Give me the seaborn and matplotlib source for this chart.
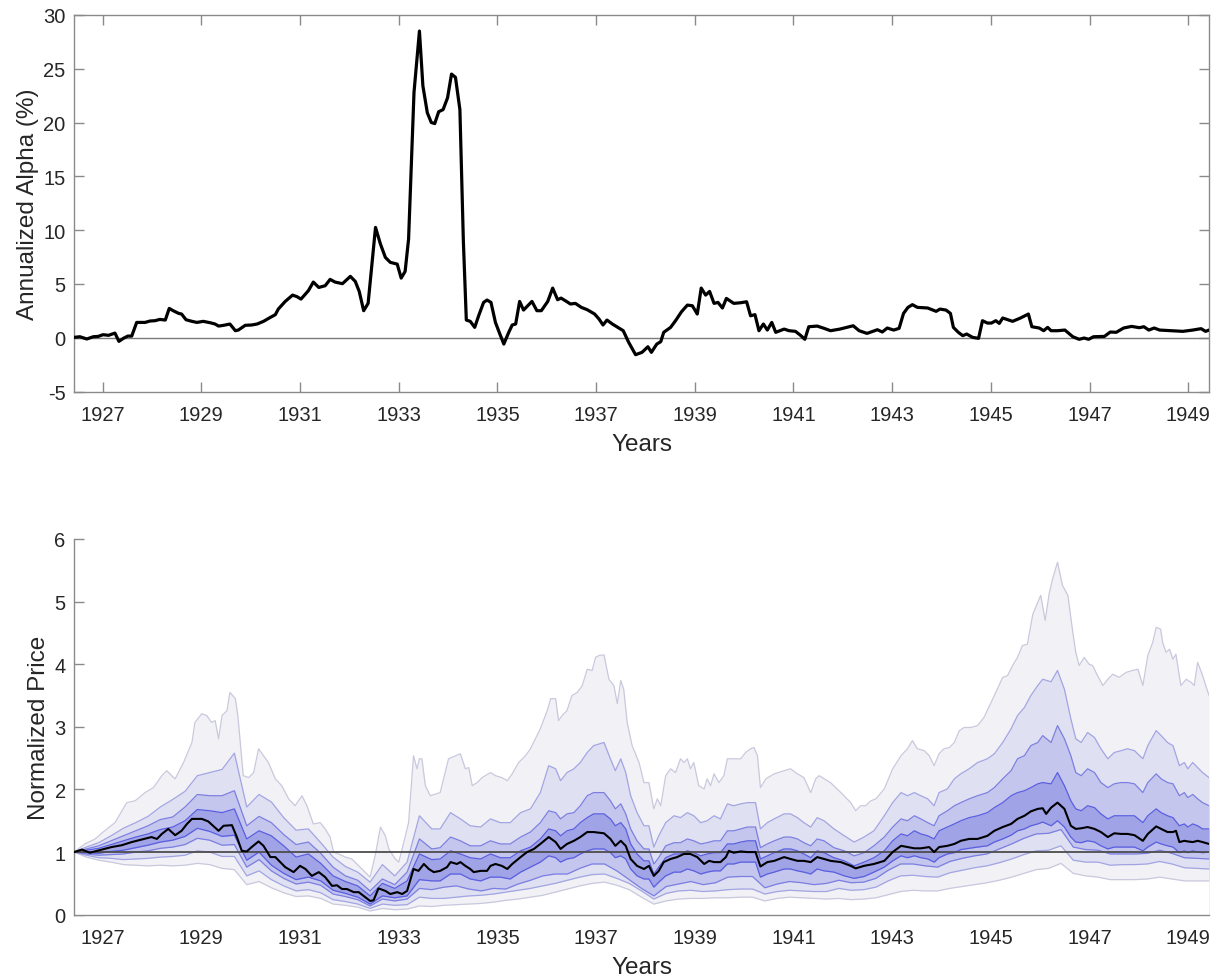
import numpy as np
import pandas as pd
import matplotlib
matplotlib.use("Agg")
import matplotlib.pyplot as plt
import seaborn as sns

# ---------------- data: top panel (annualized alpha, %) ----------------
alpha_years = [1926.42,1926.54,1926.68,1926.81,1926.91,1927.01,1927.12,1927.25,1927.33,1927.42,
 1927.51,1927.59,1927.69,1927.86,1927.96,1928.06,1928.16,1928.27,1928.35,1928.43,
 1928.54,1928.60,1928.69,1928.81,1928.91,1929.04,1929.18,1929.28,1929.35,1929.45,
 1929.58,1929.69,1929.75,1929.89,1930.02,1930.13,1930.26,1930.40,1930.50,1930.56,
 1930.70,1930.85,1930.94,1931.02,1931.17,1931.27,1931.38,1931.51,1931.61,1931.71,
 1931.86,1932.02,1932.12,1932.20,1932.29,1932.38,1932.53,1932.63,1932.73,1932.83,
 1932.97,1933.05,1933.13,1933.20,1933.31,1933.42,1933.49,1933.58,1933.66,1933.73,
 1933.81,1933.90,1933.99,1934.07,1934.15,1934.24,1934.31,1934.37,1934.45,1934.54,
 1934.62,1934.72,1934.79,1934.87,1934.96,1935.05,1935.13,1935.23,1935.30,1935.37,
 1935.45,1935.53,1935.70,1935.80,1935.89,1936.02,1936.12,1936.22,1936.29,1936.40,
 1936.48,1936.58,1936.70,1936.82,1936.97,1937.06,1937.14,1937.22,1937.33,1937.46,
 1937.55,1937.66,1937.80,1937.93,1938.05,1938.12,1938.23,1938.31,1938.37,1938.51,
 1938.61,1938.73,1938.85,1938.95,1939.05,1939.13,1939.22,1939.30,1939.39,1939.47,
 1939.56,1939.64,1939.79,1939.93,1940.05,1940.13,1940.22,1940.30,1940.39,1940.47,
 1940.56,1940.64,1940.81,1940.91,1941.04,1941.15,1941.23,1941.31,1941.48,1941.62,
 1941.75,1941.94,1942.03,1942.21,1942.33,1942.49,1942.70,1942.80,1942.90,1943.03,
 1943.14,1943.23,1943.32,1943.41,1943.51,1943.72,1943.89,1943.97,1944.09,1944.18,
 1944.24,1944.34,1944.43,1944.51,1944.63,1944.75,1944.83,1944.93,1945.01,1945.10,
 1945.17,1945.24,1945.44,1945.60,1945.76,1945.83,1945.98,1946.07,1946.15,1946.22,
 1946.35,1946.50,1946.66,1946.79,1946.89,1946.98,1947.08,1947.30,1947.42,1947.54,
 1947.69,1947.85,1948.01,1948.10,1948.20,1948.31,1948.42,1948.65,1948.89,1949.09,
 1949.26,1949.35,1949.42]
alpha_values = [0.03,0.09,-0.12,0.09,0.12,0.28,0.22,0.43,-0.34,-0.06,
 0.15,0.15,1.42,1.42,1.55,1.58,1.70,1.64,2.72,2.51,
 2.26,2.20,1.67,1.52,1.42,1.52,1.39,1.27,1.08,1.15,
 1.27,0.65,0.71,1.15,1.18,1.27,1.52,1.89,2.14,2.66,
 3.37,3.96,3.81,3.59,4.37,5.17,4.67,4.83,5.42,5.17,
 5.02,5.70,5.23,4.30,2.51,3.19,10.25,8.70,7.46,7.00,
 6.84,5.54,6.16,9.16,22.8,28.5,23.4,20.9,20.0,19.9,
 21.0,21.2,22.3,24.5,24.2,21.2,9.0,1.64,1.52,0.96,
 2.04,3.28,3.50,3.28,1.42,0.34,-0.59,0.50,1.18,1.27,
 3.37,2.57,3.37,2.51,2.51,3.37,4.61,3.53,3.68,3.37,
 3.13,3.19,2.82,2.60,2.20,1.73,1.18,1.64,1.27,0.90,
 0.65,-0.43,-1.58,-1.36,-0.84,-1.36,-0.59,-0.37,0.50,0.96,
 1.58,2.41,3.03,2.97,2.20,4.61,3.96,4.30,3.19,3.28,
 2.76,3.65,3.19,3.25,3.34,2.04,2.14,0.65,1.27,0.71,
 1.42,0.50,0.80,0.65,0.59,0.19,-0.15,1.02,1.08,0.87,
 0.65,0.80,0.90,1.11,0.65,0.40,0.74,0.53,0.90,0.71,
 0.87,2.26,2.82,3.07,2.82,2.76,2.45,2.66,2.57,2.26,
 0.96,0.50,0.19,0.34,0.03,-0.06,1.58,1.36,1.36,1.58,
 1.33,1.83,1.52,1.83,2.20,1.02,0.90,0.65,0.96,0.65,
 0.65,0.71,0.09,-0.15,-0.03,-0.15,0.09,0.12,0.53,0.50,
 0.90,1.05,0.93,1.02,0.71,0.90,0.71,0.65,0.59,0.71,
 0.84,0.59,0.71]

# ---------------- data: bottom panel (normalized price fan) ----------------
fan_start, fan_end, fan_count = 1926.42, 1949.42, 93   # quarterly grid for the outer-lower edges

median_years = [1926.42,1926.58,1926.74,1926.98,1927.18,1927.39,1927.59,1927.79,1927.99,1928.10,
 1928.20,1928.33,1928.47,1928.60,1928.71,1928.81,1929.01,1929.14,1929.35,1929.45,
 1929.62,1929.72,1929.82,1929.92,1930.02,1930.16,1930.26,1930.40,1930.50,1930.60,
 1930.70,1930.87,1931.00,1931.11,1931.24,1931.38,1931.51,1931.65,1931.75,1931.85,
 1931.95,1932.09,1932.19,1932.32,1932.42,1932.49,1932.59,1932.73,1932.83,1932.97,
 1933.07,1933.17,1933.24,1933.30,1933.40,1933.51,1933.61,1933.71,1933.84,1933.98,
 1934.05,1934.18,1934.25,1934.35,1934.45,1934.52,1934.66,1934.79,1934.86,1934.96,
 1935.09,1935.20,1935.30,1935.47,1935.60,1935.74,1935.87,1936.04,1936.18,1936.28,
 1936.41,1936.55,1936.68,1936.82,1936.95,1937.16,1937.29,1937.39,1937.50,1937.60,
 1937.70,1937.83,1937.97,1938.07,1938.17,1938.27,1938.37,1938.51,1938.64,1938.78,
 1938.91,1939.05,1939.19,1939.29,1939.39,1939.52,1939.63,1939.69,1939.79,1939.93,
 1940.07,1940.23,1940.33,1940.47,1940.61,1940.81,1940.94,1941.08,1941.21,1941.35,
 1941.48,1941.62,1941.75,1941.96,1942.16,1942.26,1942.43,1942.63,1942.84,1943.01,
 1943.18,1943.31,1943.45,1943.58,1943.75,1943.85,1943.95,1944.12,1944.26,1944.39,
 1944.56,1944.73,1944.93,1945.07,1945.24,1945.41,1945.54,1945.68,1945.81,1945.95,
 1946.05,1946.12,1946.22,1946.35,1946.49,1946.62,1946.72,1946.83,1946.96,1947.10,
 1947.23,1947.37,1947.50,1947.64,1947.77,1947.91,1948.08,1948.18,1948.35,1948.45,
 1948.58,1948.69,1948.75,1948.82,1948.92,1948.99,1949.09,1949.19,1949.29,1949.42]
median_price = [1.00,1.04,0.99,1.04,1.08,1.11,1.16,1.20,1.24,1.21,
 1.29,1.37,1.27,1.34,1.45,1.53,1.53,1.49,1.34,1.42,
 1.43,1.24,1.02,1.01,1.08,1.17,1.10,0.92,0.92,0.84,
 0.76,0.68,0.78,0.73,0.62,0.68,0.60,0.46,0.47,0.41,
 0.41,0.36,0.36,0.28,0.22,0.23,0.42,0.38,0.33,0.36,
 0.33,0.38,0.57,0.73,0.70,0.81,0.73,0.68,0.70,0.76,
 0.84,0.81,0.84,0.78,0.73,0.68,0.70,0.70,0.78,0.81,
 0.78,0.73,0.81,0.92,1.00,1.05,1.13,1.24,1.16,1.05,
 1.13,1.18,1.24,1.32,1.32,1.30,1.21,1.10,1.18,1.10,
 0.89,0.78,0.73,0.78,0.62,0.70,0.84,0.89,0.92,0.97,
 0.97,0.92,0.81,0.86,0.84,0.84,0.92,1.02,0.99,1.01,
 1.00,1.00,0.77,0.84,0.86,0.92,0.89,0.86,0.86,0.84,
 0.92,0.89,0.86,0.84,0.78,0.74,0.78,0.81,0.86,1.00,
 1.10,1.08,1.06,1.06,1.08,1.00,1.08,1.10,1.13,1.18,
 1.21,1.21,1.26,1.34,1.40,1.45,1.53,1.58,1.65,1.69,
 1.70,1.61,1.71,1.79,1.69,1.42,1.37,1.38,1.40,1.37,
 1.32,1.24,1.30,1.29,1.29,1.27,1.18,1.29,1.41,1.37,
 1.32,1.32,1.34,1.16,1.18,1.17,1.16,1.18,1.16,1.13]

outer_years = [1926.42,1926.64,1926.85,1927.01,1927.25,1927.49,1927.66,1927.86,1928.03,1928.20,
 1928.30,1928.40,1928.47,1928.64,1928.81,1928.87,1929.01,1929.11,1929.21,1929.28,
 1929.35,1929.42,1929.52,1929.58,1929.69,1929.74,1929.85,1929.96,1930.06,1930.16,
 1930.26,1930.36,1930.50,1930.63,1930.77,1930.90,1931.04,1931.14,1931.27,1931.41,
 1931.51,1931.61,1931.68,1931.78,1931.92,1932.05,1932.19,1932.32,1932.42,1932.53,
 1932.63,1932.73,1932.80,1932.93,1933.00,1933.07,1933.20,1933.30,1933.37,1933.42,
 1933.47,1933.54,1933.64,1933.84,1934.01,1934.25,1934.35,1934.42,1934.49,1934.59,
 1934.69,1934.86,1934.96,1935.09,1935.20,1935.30,1935.43,1935.57,1935.67,1935.87,
 1936.01,1936.08,1936.18,1936.24,1936.31,1936.41,1936.51,1936.62,1936.72,1936.82,
 1936.92,1936.99,1937.06,1937.16,1937.26,1937.36,1937.43,1937.50,1937.56,1937.63,
 1937.73,1937.87,1937.97,1938.07,1938.17,1938.24,1938.31,1938.41,1938.51,1938.61,
 1938.71,1938.78,1938.85,1938.91,1938.98,1939.08,1939.19,1939.25,1939.32,1939.39,
 1939.49,1939.59,1939.66,1939.79,1939.93,1940.03,1940.13,1940.20,1940.27,1940.33,
 1940.44,1940.61,1940.81,1940.94,1941.08,1941.21,1941.35,1941.45,1941.52,1941.75,
 1941.96,1942.16,1942.26,1942.36,1942.46,1942.57,1942.67,1942.84,1943.01,1943.18,
 1943.31,1943.41,1943.51,1943.65,1943.75,1943.85,1943.95,1944.05,1944.16,1944.26,
 1944.36,1944.46,1944.59,1944.73,1944.86,1945.07,1945.24,1945.34,1945.44,1945.54,
 1945.64,1945.74,1945.85,1945.95,1946.01,1946.10,1946.18,1946.25,1946.35,1946.45,
 1946.56,1946.66,1946.72,1946.79,1946.89,1946.99,1947.06,1947.16,1947.27,1947.37,
 1947.47,1947.60,1947.74,1947.87,1947.98,1948.08,1948.18,1948.28,1948.35,1948.44,
 1948.48,1948.55,1948.62,1948.69,1948.75,1948.85,1948.96,1949.06,1949.12,1949.19,
 1949.29,1949.42]
upper_4 = [1.00,1.13,1.21,1.32,1.47,1.79,1.82,1.95,2.03,2.22,
 2.30,2.22,2.17,2.43,2.75,3.07,3.21,3.18,3.07,3.10,
 2.81,3.18,3.26,3.55,3.45,3.18,2.22,2.19,2.27,2.65,
 2.54,2.43,2.17,2.06,1.85,1.74,1.90,1.74,1.45,1.47,
 1.37,1.24,1.00,0.97,0.92,0.89,0.78,0.68,0.60,0.97,
 1.40,1.26,1.05,0.89,0.84,1.05,1.47,2.54,2.33,2.49,
 2.49,2.06,1.90,1.95,2.49,2.57,2.33,2.35,2.06,2.11,
 2.19,2.27,2.22,2.19,2.14,2.25,2.43,2.54,2.65,2.97,
 3.26,3.45,3.45,3.10,3.18,3.26,3.50,3.55,3.66,3.92,
 3.90,4.11,4.14,4.15,3.76,3.66,3.37,3.74,3.60,3.07,
 2.70,2.43,2.11,2.11,1.69,1.85,1.74,2.22,2.33,2.27,
 2.49,2.43,2.49,2.33,2.43,2.06,2.01,2.17,2.06,2.25,
 2.11,2.22,2.49,2.49,2.49,2.59,2.65,2.67,2.54,2.03,
 2.17,2.25,2.30,2.33,2.25,2.19,1.95,2.17,2.22,2.11,
 1.95,1.79,1.66,1.74,1.74,1.82,1.85,2.01,2.33,2.54,
 2.65,2.78,2.65,2.62,2.54,2.38,2.57,2.65,2.67,2.75,
 2.94,2.99,2.99,3.02,3.15,3.50,3.79,3.82,3.98,4.11,
 4.30,4.32,4.80,4.99,5.10,4.70,5.12,5.36,5.63,5.26,
 5.10,4.51,4.19,3.98,4.11,4.00,3.98,3.82,3.66,3.76,
 3.84,3.79,3.87,3.90,3.92,3.66,4.14,4.35,4.59,4.56,
 4.35,4.19,4.24,4.08,4.16,3.66,3.76,3.71,3.66,4.03,
 3.82,3.50]

# finer sampling for the inner edges (upper 1-3, lower 1)
inner_years = [1926.42,1926.67,1926.92,1927.17,1927.42,1927.67,1927.92,1928.17,1928.42,1928.67,
 1928.92,1929.17,1929.42,1929.67,1929.92,1930.17,1930.42,1930.67,1930.92,1931.17,
 1931.42,1931.67,1931.92,1932.17,1932.42,1932.67,1932.92,1933.17,1933.42,1933.67,
 1933.84,1934.05,1934.25,1934.45,1934.66,1934.86,1935.06,1935.26,1935.47,1935.67,
 1935.87,1936.04,1936.18,1936.28,1936.41,1936.55,1936.68,1936.82,1936.95,1937.16,
 1937.29,1937.39,1937.50,1937.60,1937.70,1937.83,1937.97,1938.07,1938.17,1938.27,
 1938.41,1938.58,1938.71,1938.85,1938.98,1939.12,1939.25,1939.39,1939.52,1939.66,
 1939.79,1939.93,1940.07,1940.23,1940.33,1940.47,1940.61,1940.81,1940.94,1941.08,
 1941.21,1941.35,1941.48,1941.62,
 1941.82,1942.03,1942.23,1942.43,1942.63,1942.84,1943.01,1943.18,1943.31,1943.45,
 1943.58,1943.72,1943.85,1943.95,1944.12,1944.26,1944.39,1944.56,1944.73,1944.93,
 1945.07,1945.24,1945.41,1945.54,1945.68,1945.81,1945.95,1946.05,1946.22,1946.35,
 1946.49,1946.62,1946.72,1946.83,1946.96,1947.10,1947.23,1947.37,1947.50,1947.64,
 1947.77,1947.91,1948.08,1948.18,1948.35,1948.45,1948.58,1948.69,1948.82,1948.92,
 1948.99,1949.09,1949.19,1949.29,1949.42]
upper_3 = [1.00,1.08,1.15,1.26,1.38,1.47,1.57,1.72,1.84,1.97,
 2.22,2.27,2.32,2.58,1.72,1.92,1.80,1.55,1.35,1.37,
 1.15,0.92,0.77,0.68,0.52,0.80,0.62,0.84,1.58,1.37,
 1.37,1.63,1.53,1.42,1.40,1.53,1.47,1.47,1.63,1.69,
 1.95,2.38,2.33,2.14,2.27,2.33,2.43,2.59,2.70,2.75,
 2.49,2.30,2.49,2.27,1.90,1.63,1.42,1.42,1.08,1.26,
 1.47,1.58,1.55,1.63,1.58,1.47,1.50,1.58,1.53,1.77,
 1.74,1.77,1.79,1.79,1.37,1.47,1.53,1.61,1.61,1.55,
 1.47,1.40,1.55,1.50,
 1.37,1.26,1.16,1.24,1.34,1.58,1.79,1.95,1.90,1.95,
 1.90,1.85,1.74,1.95,2.01,2.17,2.25,2.33,2.43,2.49,
 2.57,2.75,2.97,3.18,3.31,3.50,3.66,3.76,3.72,3.90,
 3.60,3.13,2.81,2.75,2.91,2.83,2.65,2.49,2.59,2.62,
 2.65,2.62,2.49,2.70,2.94,2.86,2.75,2.70,2.38,2.43,
 2.33,2.43,2.35,2.27,2.19]
upper_2 = [1.00,1.05,1.10,1.18,1.26,1.34,1.42,1.52,1.56,1.72,
 1.92,1.90,1.90,1.98,1.42,1.57,1.47,1.28,1.12,1.16,
 0.98,0.76,0.62,0.55,0.38,0.57,0.48,0.68,1.21,1.05,
 1.07,1.24,1.18,1.10,1.10,1.18,1.13,1.13,1.24,1.32,
 1.47,1.66,1.63,1.53,1.61,1.63,1.74,1.90,1.95,1.95,
 1.82,1.69,1.77,1.61,1.37,1.18,1.05,1.05,0.81,0.91,
 1.10,1.15,1.15,1.21,1.18,1.13,1.15,1.18,1.18,1.34,
 1.34,1.37,1.40,1.40,1.07,1.13,1.18,1.24,1.24,1.21,
 1.15,1.10,1.21,1.18,
 1.07,1.02,0.94,0.99,1.10,1.24,1.40,1.53,1.50,1.58,
 1.53,1.47,1.42,1.58,1.66,1.74,1.79,1.85,1.90,1.95,
 2.03,2.17,2.30,2.49,2.54,2.70,2.75,2.86,2.75,3.02,
 2.81,2.54,2.27,2.22,2.33,2.27,2.11,2.03,2.09,2.11,
 2.11,2.09,1.95,2.11,2.25,2.17,2.11,2.09,1.90,1.95,
 1.87,1.92,1.85,1.79,1.74]
upper_1 = [1.00,1.03,1.06,1.12,1.18,1.24,1.29,1.36,1.40,1.50,
 1.68,1.66,1.63,1.69,1.21,1.34,1.26,1.10,0.92,0.97,
 0.82,0.62,0.53,0.46,0.30,0.50,0.42,0.54,0.97,0.88,
 0.89,1.02,0.97,0.91,0.89,0.97,0.91,0.91,1.02,1.08,
 1.21,1.37,1.34,1.26,1.34,1.37,1.47,1.55,1.61,1.61,
 1.53,1.42,1.47,1.37,1.13,0.97,0.86,0.86,0.65,0.76,
 0.91,0.97,0.97,1.02,0.99,0.94,0.97,0.99,0.99,1.13,
 1.13,1.16,1.18,1.18,0.89,0.94,0.99,1.05,1.05,1.02,
 0.97,0.91,1.02,0.99,
 0.91,0.86,0.78,0.84,0.91,1.02,1.18,1.29,1.26,1.34,
 1.29,1.26,1.21,1.34,1.40,1.45,1.50,1.55,1.58,1.63,
 1.71,1.79,1.90,1.95,1.98,2.03,2.09,2.11,2.09,2.27,
 2.06,1.82,1.69,1.66,1.74,1.71,1.61,1.53,1.58,1.58,
 1.58,1.58,1.47,1.58,1.69,1.63,1.58,1.55,1.42,1.45,
 1.40,1.45,1.42,1.37,1.37]
lower_1 = [1.00,0.99,0.98,1.01,1.03,1.07,1.11,1.16,1.19,1.25,
 1.38,1.33,1.25,1.27,0.87,1.00,0.79,0.66,0.56,0.60,
 0.54,0.39,0.34,0.28,0.17,0.30,0.27,0.30,0.56,0.54,
 0.54,0.65,0.65,0.57,0.54,0.60,0.60,0.57,0.68,0.76,
 0.84,0.94,0.91,0.84,0.89,0.91,0.97,1.02,1.05,1.05,
 0.99,0.91,0.94,0.89,0.73,0.62,0.57,0.57,0.44,0.52,
 0.62,0.68,0.68,0.73,0.70,0.65,0.68,0.70,0.70,0.81,
 0.81,0.84,0.84,0.84,0.60,0.65,0.68,0.73,0.73,0.70,
 0.68,0.65,0.73,0.70,
 0.68,0.62,0.58,0.61,0.68,0.76,0.86,0.94,0.91,0.94,
 0.91,0.89,0.84,0.91,0.97,0.99,1.04,1.06,1.08,1.10,
 1.16,1.21,1.27,1.34,1.37,1.42,1.45,1.48,1.42,1.50,
 1.40,1.24,1.16,1.15,1.18,1.16,1.10,1.05,1.08,1.08,
 1.08,1.08,1.02,1.08,1.16,1.13,1.10,1.08,0.99,1.02,
 0.99,1.02,1.00,0.99,1.00]

lower_2 = [1.00,0.97,0.95,0.96,0.97,1.00,1.02,1.06,1.08,1.12,
 1.22,1.19,1.11,1.12,0.76,0.88,0.70,0.58,0.49,0.52,
 0.47,0.33,0.29,0.24,0.14,0.25,0.22,0.25,0.42,0.40,
 0.44,0.46,0.41,0.38,0.42,0.41,0.49,0.55,0.62,0.65,
 0.65,0.74,0.81,0.81,0.70,0.56,0.42,0.30,0.45,0.49,
 0.53,0.48,0.51,0.60,0.61,0.61,0.43,0.49,0.53,0.51,
 0.48,0.50,0.55,0.51,0.52,0.58,0.71,0.81,0.81,0.78,
 0.76,0.85,0.90,0.94,0.97,1.05,1.13,1.22,1.29,1.30,
 1.36,1.08,1.04,1.03,0.97,0.97,0.97,0.98,1.03,0.98,
 0.91,0.90,0.89]
lower_3 = [1.00,0.95,0.91,0.90,0.88,0.89,0.90,0.92,0.93,0.95,
 1.02,1.00,0.93,0.93,0.62,0.70,0.56,0.46,0.38,0.40,
 0.35,0.24,0.21,0.17,0.10,0.17,0.15,0.16,0.28,0.26,
 0.26,0.28,0.30,0.31,0.33,0.36,0.39,0.42,0.46,0.50,
 0.55,0.60,0.64,0.65,0.58,0.50,0.38,0.25,0.34,0.38,
 0.39,0.37,0.38,0.40,0.41,0.41,0.33,0.37,0.39,0.38,
 0.37,0.37,0.42,0.39,0.40,0.44,0.54,0.62,0.63,0.61,
 0.60,0.67,0.71,0.75,0.78,0.83,0.89,0.96,1.02,1.03,
 1.10,0.87,0.84,0.84,0.79,0.80,0.80,0.81,0.85,0.81,
 0.75,0.74,0.73]
lower_4 = [1.00,0.92,0.87,0.84,0.80,0.79,0.78,0.79,0.78,0.79,
 0.82,0.80,0.74,0.72,0.48,0.53,0.43,0.35,0.29,0.30,
 0.26,0.17,0.15,0.12,0.06,0.10,0.08,0.09,0.14,0.13,
 0.15,0.16,0.17,0.18,0.20,0.23,0.25,0.28,0.31,0.36,
 0.41,0.46,0.50,0.52,0.47,0.40,0.28,0.17,0.22,0.25,
 0.26,0.26,0.27,0.27,0.28,0.28,0.22,0.26,0.28,0.27,
 0.26,0.25,0.26,0.24,0.25,0.27,0.32,0.37,0.39,0.38,
 0.38,0.42,0.45,0.48,0.51,0.55,0.60,0.66,0.72,0.74,
 0.82,0.66,0.62,0.60,0.56,0.56,0.56,0.57,0.60,0.57,
 0.54,0.54,0.54]

year_ticks = list(range(1927, 1950, 2))
alpha_ticks = [-5, 0, 5, 10, 15, 20, 25, 30]
price_ticks = [0, 1, 2, 3, 4, 5, 6]

# ---------------- styling ----------------
sns.set_theme(style="white")
plt.rcParams['font.family'] = ['Liberation Sans', 'DejaVu Sans']
TXT = '#262626'
SPINE = '#8a8a8a'

W, H = 1219, 978
fig = plt.figure(figsize=(W / 100, H / 100), dpi=100)
L, R = 74, 1209
ax1 = fig.add_axes([L / W, 1 - 392.5 / H, (R - L) / W, (392.5 - 15.9) / H])
ax2 = fig.add_axes([L / W, 1 - 915.7 / H, (R - L) / W, (915.7 - 540) / H])

def style_axes(ax, box):
    for s in ['left', 'bottom', 'top', 'right']:
        ax.spines[s].set_visible(box or s in ('left', 'bottom'))
        ax.spines[s].set_color(SPINE)
        ax.spines[s].set_linewidth(1.0)
    ax.tick_params(axis='both', which='major', direction='in', length=7.5,
                   width=1.0, color=SPINE, labelcolor=TXT, labelsize=14.5,
                   top=box, right=box, bottom=True, left=True)
    ax.tick_params(axis='x', pad=9.5)
    ax.tick_params(axis='y', pad=6)
    ax.set_xlim(fan_start, fan_end)
    ax.set_xticks(year_ticks)
    ax.set_xticklabels([str(y) for y in year_ticks])
    ax.grid(False)
    ax.set_facecolor('white')

# ---------------- top panel ----------------
df_alpha = pd.DataFrame({'Years': alpha_years, 'Alpha': alpha_values})
ax1.axhline(0, color='#7a7a7a', lw=1.0, zorder=1)
sns.lineplot(data=df_alpha, x='Years', y='Alpha', ax=ax1, color='black',
             lw=2.3, zorder=3, sort=False, estimator=None)
style_axes(ax1, True)
ax1.set_ylim(-5, 30)
ax1.set_yticks(alpha_ticks)
ax1.set_yticklabels([str(v) for v in alpha_ticks])
ax1.set_xlabel('Years', fontsize=17.5, color=TXT, labelpad=6.5)
ax1.set_ylabel('Annualized Alpha (%)', fontsize=17.5, color=TXT, labelpad=3)

# ---------------- bottom panel ----------------
quarter_years = np.linspace(fan_start, fan_end, fan_count)
df_q = pd.DataFrame({'Years': quarter_years,
                     'l2': lower_2, 'l3': lower_3, 'l4': lower_4})
df_in = pd.DataFrame({'Years': inner_years, 'u1': upper_1, 'u2': upper_2,
                      'u3': upper_3, 'l1': lower_1})
df_outer = pd.DataFrame({'Years': outer_years, 'u4': upper_4})
df_med = pd.DataFrame({'Years': median_years, 'median': median_price})

c_outer, c_2, c_3, c_inner = '#f1f1f6', '#dfe0f2', '#c4c6ee', '#a0a3e5'
# layered fills: each quantile curve filled down to the baseline, from the top down
layers = [(df_outer, 'u4', c_outer), (df_in, 'u3', c_2), (df_in, 'u2', c_3),
          (df_in, 'u1', c_inner), (df_in, 'l1', c_3), (df_q, 'l2', c_2),
          (df_q, 'l3', c_outer), (df_q, 'l4', 'white')]
for d, col, fc in layers:
    ax2.fill_between(d['Years'], 0, d[col], color=fc, lw=0, zorder=1)

edges = [(df_outer, 'u4', '#c9c9de'), (df_q, 'l4', '#c9c9de'),
         (df_in, 'u3', '#a3a5e2'), (df_q, 'l3', '#a3a5e2'),
         (df_in, 'u2', '#7c7fe0'), (df_q, 'l2', '#7c7fe0'),
         (df_in, 'u1', '#5a5ee0'), (df_in, 'l1', '#5a5ee0')]
for d, col, ec in edges:
    sns.lineplot(data=d, x='Years', y=col, ax=ax2, color=ec, lw=0.9,
                 zorder=2, estimator=None)
ax2.axhline(1, color='#4d4d4d', lw=1.3, zorder=3)
sns.lineplot(data=df_med, x='Years', y='median', ax=ax2, color='black', lw=1.5,
             zorder=4, estimator=None)
style_axes(ax2, False)
ax2.set_ylim(0, 6)
ax2.set_yticks(price_ticks)
ax2.set_yticklabels([str(v) for v in price_ticks])
ax2.set_xlabel('Years', fontsize=17.5, color=TXT, labelpad=6.5)
ax2.set_ylabel('Normalized Price', fontsize=17.5, color=TXT, labelpad=3)

fig.savefig('out.png', dpi=100, facecolor='white')
